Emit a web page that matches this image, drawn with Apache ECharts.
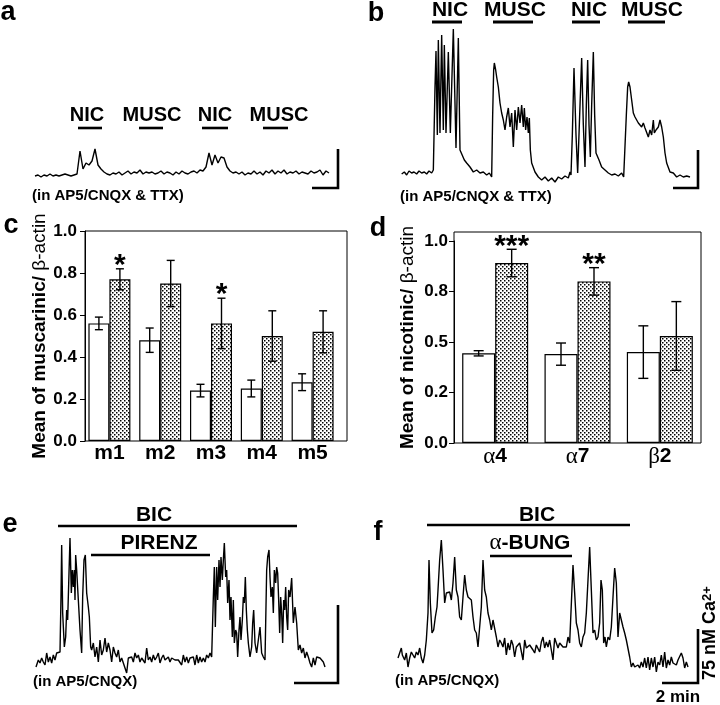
<!DOCTYPE html>
<html><head><meta charset="utf-8">
<script src="https://cdn.jsdelivr.net/npm/echarts@6/dist/echarts.min.js"></script>
<style>html,body{margin:0;padding:0;background:#fff}#chart{width:720px;height:705px}</style>
</head><body><div id="chart"></div>
<script>
// ---------- Panel c: muscarinic receptors ----------
const mCats = ['m1','m2','m3','m4','m5'];
const mControl = [0.56,0.48,0.24,0.25,0.28];
const mControlErr = [0.03,0.058,0.03,0.04,0.04];
const mTreated = [0.77,0.75,0.56,0.50,0.52];
const mTreatedErr = [0.05,0.11,0.12,0.12,0.10];
const mStars = ['*','','*','',''];
const cTickLabels = ['0.0','0.2','0.4','0.6','0.8','1.0'];

// ---------- Panel d: nicotinic receptors ----------
const nCats = ['α4','α7','β2'];
const nControl = [0.444,0.44,0.45];
const nControlErr = [0.013,0.055,0.13];
const nTreated = [0.891,0.80,0.53];
const nTreatedErr = [0.068,0.068,0.17];
const nStars = ['***','**',''];
const dTickLabels = ['0.0','0.2','0.5','0.8','1.0'];

// ---------- Calcium traces (time, rise above baseline) ----------
const traceAStart = 15, traceAStep = 9;
const traceAVals = [1,2,0,2,1,3,1,2,1,2,3,2,1,2,3,
 26,8,14,12,16,28,12,8,5,3,
 2,4,3,5,2,4,6,3,5,4,7,3,5,4,5,3,4,6,3,5,4,2,5,3,6,4,3,5,6,4,7,6,10,
 24,12,22,14,20,19,10,6,4,5,3,5,2,4,3,6,3,5,2,6,4,7,3,6,4,7,3,5,4,6,3,5,4,3,6,4,5,7,2,6,4];

const traceB = [[20,1],[28,3],[35,0],[42,4],[50,2],[57,3],[65,1],[72,4],[80,2],[88,3],[95,1],[102,4],[110,2],[115,5],[118,5],[120,88],[123,124],[127,40],[130,135],[135,42],[140,140],[145,45],[148,130],[153,42],[160,123],[166,42],[175,146],[183,27],[190,137],[195,25],[200,23],[208,15],[215,12],[225,8],[235,3],[245,5],[255,2],[265,3],[275,0],[283,2],[290,-2],[293,60],[296,105],[298,112],[302,105],[305,98],[310,88],[315,72],[320,62],[325,55],[330,45],[335,58],[340,67],[345,48],[350,62],[355,28],[360,65],[365,45],[370,68],[375,52],[380,70],[385,48],[388,67],[392,45],[396,58],[400,42],[403,57],[406,25],[410,12],[420,3],[430,-2],[440,-5],[450,-2],[460,-6],[470,-3],[480,-7],[490,-2],[500,-4],[510,-1],[520,-3],[525,3],[528,0],[532,40],[537,107],[543,40],[548,2],[554,60],[560,117],[565,50],[570,8],[574,70],[578,115],[582,50],[586,18],[590,70],[595,123],[599,60],[603,22],[612,15],[620,8],[630,5],[640,2],[650,0],[660,1],[670,-1],[680,2],[686,-2],[690,0],[694,60],[698,88],[701,93],[705,88],[710,75],[715,62],[720,58],[725,55],[730,52],[735,50],[740,48],[745,52],[750,47],[755,45],[760,38],[765,45],[770,40],[775,55],[778,42],[783,45],[790,48],[795,55],[800,48],[805,38],[810,22],[815,12],[825,3],[835,2],[845,-2],[855,0],[865,-2],[875,-1],[885,-2]];

const traceE = [[18,-4],[25,3],[30,0],[35,5],[40,1],[45,-2],[50,10],[55,1],[60,6],[65,0],[70,8],[75,3],[80,10],[85,8],[90,11],[93,66],[95,118],[98,50],[103,16],[107,26],[110,53],[113,43],[117,90],[120,125],[124,70],[127,93],[130,76],[133,93],[135,63],[137,108],[140,93],[145,63],[150,33],[155,10],[158,66],[162,103],[166,108],[170,70],[175,56],[178,46],[182,16],[185,13],[190,20],[195,6],[200,16],[205,1],[210,23],[215,8],[220,13],[225,25],[230,11],[235,20],[240,13],[245,1],[250,16],[255,10],[260,6],[265,13],[270,1],[275,5],[280,5],[285,-5],[290,-10],[295,5],[300,3],[305,6],[310,1],[315,10],[320,5],[325,8],[330,1],[335,5],[340,6],[345,0],[350,15],[355,3],[360,6],[365,1],[370,8],[375,3],[380,6],[385,10],[390,0],[395,5],[400,8],[405,3],[410,5],[415,6],[420,1],[425,5],[430,6],[435,3],[440,5],[445,3],[450,5],[455,-2],[460,8],[465,1],[470,6],[475,0],[480,5],[485,3],[490,6],[495,-2],[500,8],[505,0],[510,6],[515,1],[520,5],[525,1],[530,8],[535,5],[540,10],[545,6],[550,66],[553,96],[556,36],[560,96],[563,63],[567,103],[570,76],[573,106],[577,83],[580,103],[583,120],[587,86],[590,93],[593,60],[597,83],[600,43],[603,66],[607,26],[610,63],[613,20],[617,33],[620,30],[623,6],[627,33],[630,46],[633,23],[637,43],[640,66],[643,60],[646,86],[649,53],[652,33],[655,20],[660,6],[665,16],[668,40],[671,53],[675,20],[680,10],[685,23],[690,36],[695,10],[700,6],[705,3],[710,93],[713,106],[717,113],[720,86],[723,66],[727,76],[730,50],[733,93],[737,80],[740,96],[743,90],[746,63],[749,30],[752,66],[755,50],[758,20],[761,63],[764,53],[767,76],[770,46],[773,33],[776,73],[780,66],[785,85],[790,40],[795,56],[800,40],[805,13],[810,18],[815,10],[820,15],[825,5],[830,11],[835,6],[840,0],[845,-4],[850,5],[855,-2],[860,6],[865,6],[870,5],[875,6],[880,1],[885,-4]];

const traceF = [[15,7],[20,8],[25,17],[28,10],[32,8],[35,5],[40,12],[45,-2],[50,7],[55,13],[60,10],[65,7],[70,13],[75,10],[80,17],[85,7],[90,2],[95,10],[100,25],[105,52],[108,105],[112,62],[117,32],[122,35],[127,48],[132,58],[135,75],[140,105],[145,125],[150,95],[155,62],[160,72],[165,70],[170,73],[175,65],[180,82],[185,108],[190,75],[195,68],[200,48],[205,45],[210,68],[215,90],[220,75],[225,68],[230,68],[235,65],[240,48],[245,35],[250,32],[255,18],[260,18],[265,58],[270,105],[275,75],[280,68],[285,52],[290,45],[295,35],[300,45],[305,43],[310,28],[315,18],[320,25],[325,22],[330,18],[335,27],[340,10],[345,22],[350,15],[355,25],[360,20],[365,8],[370,18],[375,17],[380,22],[385,20],[390,5],[395,25],[400,17],[405,18],[410,20],[415,18],[420,15],[425,12],[430,20],[435,18],[440,13],[445,23],[450,28],[455,17],[460,23],[465,18],[470,25],[475,15],[480,5],[485,27],[490,25],[495,17],[500,22],[505,20],[510,18],[515,18],[520,18],[525,28],[530,22],[535,22],[540,100],[545,72],[550,42],[555,35],[560,22],[565,18],[570,28],[575,32],[580,52],[585,85],[590,118],[595,75],[600,32],[605,35],[610,25],[615,28],[620,42],[624,85],[628,75],[632,22],[636,28],[640,18],[645,28],[650,25],[655,38],[660,68],[665,97],[670,82],[675,28],[680,52],[685,52],[690,38],[695,32],[700,25],[705,25],[710,8],[715,-2],[720,2],[725,-2],[730,-3],[735,0],[740,-3],[745,3],[750,-2],[755,7],[760,-3],[765,8],[770,-5],[775,7],[780,-2],[785,8],[790,-7],[795,3],[800,0],[805,10],[810,-2],[815,13],[820,-3],[825,5],[830,0],[835,8],[840,2],[845,3],[850,0],[855,5],[860,5],[865,12],[870,7],[875,-3],[880,3],[885,-2]];

// ---------- annotation text ----------
const drugLabelsAB = ['NIC','MUSC','NIC','MUSC'];
const noteAB = '(in AP5/CNQX & TTX)';
const noteEF = '(in AP5/CNQX)';

// ---------- rendering ----------
const FONT = '"Liberation Sans", Arial, Helvetica, sans-serif';
const traceA = traceAVals.map((v, i) => [traceAStart + i * traceAStep, v]);

const pat = document.createElement('canvas');
pat.width = 4; pat.height = 4;
(function () {
  const g = pat.getContext('2d');
  g.fillStyle = '#fff'; g.fillRect(0, 0, 4, 4);
  g.fillStyle = '#000';
  g.fillRect(0, 0, 1.5, 1.5);
  g.fillRect(2, 2, 1.5, 1.5);
})();
const dotted = { image: pat, repeat: 'repeat' };

function errData(ctrl, ctrlErr, trt, trtErr) {
  const out = [];
  ctrl.forEach((v, i) => out.push([i, v, ctrlErr[i], 0]));
  trt.forEach((v, i) => out.push([i, v, trtErr[i], 1]));
  return out;
}
function errRender(barW, stars, capHalf) {
  return function (params, api) {
    const ci = api.value(0), v = api.value(1), e = api.value(2), side = api.value(3);
    const base = api.coord([ci, v]);
    const x = base[0] + (side ? barW / 2 : -barW / 2);
    const yT = api.coord([ci, v + e])[1];
    const yB = api.coord([ci, v - e])[1];
    const st = { stroke: '#000', lineWidth: 1.4 };
    const ch = [
      { type: 'line', shape: { x1: x, y1: yT, x2: x, y2: yB }, style: st },
      { type: 'line', shape: { x1: x - capHalf, y1: yT, x2: x + capHalf, y2: yT }, style: st },
      { type: 'line', shape: { x1: x - capHalf, y1: yB, x2: x + capHalf, y2: yB }, style: st }
    ];
    if (side && stars[ci]) {
      ch.push({ type: 'text', style: { text: stars[ci], x: x, y: yT - 3, align: 'center', verticalAlign: 'middle', font: 'bold 30px ' + FONT, fill: '#000' } });
    }
    return { type: 'group', children: ch };
  };
}

function traceSeries(idx, data) {
  return { type: 'line', xAxisIndex: idx, yAxisIndex: idx, data: data, showSymbol: false, symbol: 'none',
    clip: false, lineStyle: { color: '#000', width: 1.4 }, silent: true };
}
function hiddenX(grid, min, max) { return { gridIndex: grid, type: 'value', min: min, max: max, show: false }; }
function hiddenY(grid, min, max) { return { gridIndex: grid, type: 'value', min: min, max: max, show: false }; }

function txt(x, y, text, size, opts) {
  opts = opts || {};
  return { type: 'text', x: x, y: y, rotation: opts.rotation || 0, silent: true,
    style: Object.assign({ text: text, fill: '#000', font: (opts.weight || 'bold') + ' ' + size + 'px ' + FONT,
      align: opts.align || 'center', verticalAlign: 'middle' }, opts.style || {}) };
}
function bar(x1, x2, y, w) {
  return { type: 'line', silent: true, shape: { x1: x1, y1: y, x2: x2, y2: y }, style: { stroke: '#000', lineWidth: w || 2.6 } };
}
function scale(pts) {
  return { type: 'polyline', silent: true, shape: { points: pts }, style: { stroke: '#000', lineWidth: 2.6, fill: null } };
}

const nameRich = {
  b: { fontSize: 19, fontWeight: 'bold', fontFamily: FONT, color: '#000' },
  r: { fontSize: 19, fontWeight: 'normal', fontFamily: FONT, color: '#000' }
};

const gridBase = { outerBoundsMode: 'none', containLabel: false };
const option = {
  animation: false,
  backgroundColor: '#fff',
  grid: [
    Object.assign({ left: 30, top: 127, width: 315, height: 60 }, gridBase),            // 0 a
    Object.assign({ left: 395, top: 20, width: 310, height: 165 }, gridBase),           // 1 b
    Object.assign({ left: 85, top: 231, width: 262, height: 210, show: true, borderColor: '#000', borderWidth: 1, backgroundColor: 'rgba(0,0,0,0)' }, gridBase), // 2 c frame
    Object.assign({ left: 84, top: 231, width: 254, height: 210 }, gridBase),           // 3 c data
    Object.assign({ left: 454, top: 232, width: 247, height: 211, show: true, borderColor: '#000', borderWidth: 1, backgroundColor: 'rgba(0,0,0,0)' }, gridBase), // 4 d frame
    Object.assign({ left: 454, top: 241, width: 247, height: 202 }, gridBase),          // 5 d data
    Object.assign({ left: 30, top: 530, width: 315, height: 145 }, gridBase),           // 6 e
    Object.assign({ left: 393, top: 530, width: 305, height: 145 }, gridBase)           // 7 f
  ],
  xAxis: [
    hiddenX(0, 0, 945),
    hiddenX(1, 0, 930),
    hiddenX(2, 0, 1),
    { gridIndex: 3, type: 'category', data: mCats, axisLine: { show: false }, axisTick: { show: false },
      axisLabel: { fontSize: 21, fontWeight: 'bold', fontFamily: FONT, color: '#000', margin: 2 } },
    hiddenX(4, 0, 1),
    { gridIndex: 5, type: 'category', data: nCats, axisLine: { show: false }, axisTick: { show: false },
      axisLabel: { margin: 2, formatter: v => '{r|' + v.charAt(0) + '}{b|' + v.slice(1) + '}',
        rich: { r: { fontSize: 23, fontFamily: '"Liberation Serif", "DejaVu Serif", serif', color: '#000' },
                b: { fontSize: 21, fontWeight: 'bold', fontFamily: FONT, color: '#000' } } } },
    hiddenX(6, 0, 945),
    hiddenX(7, 0, 915)
  ],
  yAxis: [
    hiddenY(0, -10, 50),
    hiddenY(1, -10, 155),
    { gridIndex: 2, type: 'value', min: 0, max: 1, interval: 0.2, splitLine: { show: false },
      axisLine: { show: true, lineStyle: { color: '#000', width: 1 } },
      axisTick: { show: true, inside: false, length: 5, lineStyle: { color: '#000', width: 1 } },
      axisLabel: { margin: 8, fontSize: 17, fontWeight: 'bold', fontFamily: FONT, color: '#000',
        formatter: v => cTickLabels[Math.round(v / 0.2)] },
      name: '{b|Mean of muscarinic/ }{r|β-actin}', nameLocation: 'middle', nameGap: 35,
      nameTextStyle: { rich: nameRich } },
    hiddenY(3, 0, 1),
    { gridIndex: 4, type: 'value', min: 0, max: 1, axisLine: { show: false }, axisTick: { show: false },
      axisLabel: { show: false }, splitLine: { show: false },
      name: '{b|Mean of nicotinic/ }{r|β-actin}', nameLocation: 'middle', nameGap: 37,
      nameTextStyle: { rich: nameRich } },
    { gridIndex: 5, type: 'value', min: 0, max: 1, interval: 0.25, splitLine: { show: false },
      axisLine: { show: true, lineStyle: { color: '#000', width: 1 } },
      axisTick: { show: true, inside: false, length: 5, lineStyle: { color: '#000', width: 1 } },
      axisLabel: { margin: 6, fontSize: 17, fontWeight: 'bold', fontFamily: FONT, color: '#000',
        formatter: v => dTickLabels[Math.round(v / 0.25)] } },
    hiddenY(6, -12, 133),
    hiddenY(7, -10, 135)
  ],
  series: [
    traceSeries(0, traceA),
    traceSeries(1, traceB),
    traceSeries(6, traceE),
    traceSeries(7, traceF),
    { type: 'bar', xAxisIndex: 3, yAxisIndex: 3, data: mControl, barWidth: 21, barGap: '0%',
      itemStyle: { color: '#fff', borderColor: '#000', borderWidth: 1.2 } },
    { type: 'bar', xAxisIndex: 3, yAxisIndex: 3, data: mTreated, barWidth: 21, barGap: '0%',
      itemStyle: { color: dotted, borderColor: '#000', borderWidth: 1.2 } },
    { type: 'custom', xAxisIndex: 3, yAxisIndex: 3, z: 5, data: errData(mControl, mControlErr, mTreated, mTreatedErr),
      renderItem: errRender(21, mStars, 4), silent: true },
    { type: 'bar', xAxisIndex: 5, yAxisIndex: 5, data: nControl, barWidth: 33, barGap: '0%',
      itemStyle: { color: '#fff', borderColor: '#000', borderWidth: 1.2 } },
    { type: 'bar', xAxisIndex: 5, yAxisIndex: 5, data: nTreated, barWidth: 33, barGap: '0%',
      itemStyle: { color: dotted, borderColor: '#000', borderWidth: 1.2 } },
    { type: 'custom', xAxisIndex: 5, yAxisIndex: 5, z: 5, data: errData(nControl, nControlErr, nTreated, nTreatedErr),
      renderItem: errRender(33, nStars, 5), silent: true }
  ],
  graphic: { elements: [
    // panel letters
    txt(8, 13, 'a', 27), txt(376, 14, 'b', 27), txt(11, 226, 'c', 27),
    txt(378, 229, 'd', 27), txt(10, 525, 'e', 27), txt(378, 533, 'f', 27),
    // panel a labels
    txt(87, 115, drugLabelsAB[0], 20), txt(152, 115, drugLabelsAB[1], 20),
    txt(215, 115, drugLabelsAB[2], 20), txt(279, 115, drugLabelsAB[3], 20),
    bar(78, 102, 128), bar(139, 163, 128), bar(202, 228, 128), bar(263, 288, 128),
    txt(32, 196, noteAB, 15, { align: 'left' }),
    scale([[312, 188], [338, 188], [338, 149]]),
    // panel b labels
    txt(450, 10, drugLabelsAB[0], 21), txt(515, 10, drugLabelsAB[1], 21),
    txt(589, 10, drugLabelsAB[2], 21), txt(652, 10, drugLabelsAB[3], 21),
    bar(432, 462, 22, 3), bar(493, 533, 22, 3), bar(572, 600, 22, 3), bar(628, 665, 22, 3),
    txt(400, 197, noteAB, 15, { align: 'left' }),
    scale([[673, 188], [698, 188], [698, 150]]),
    // panel e
    txt(154, 515, 'BIC', 21), bar(58, 297, 526, 2.6),
    txt(159, 543, 'PIRENZ', 21), bar(91, 210, 555, 2.6),
    txt(33, 682, noteEF, 15, { align: 'left' }),
    scale([[294, 683], [338, 683], [338, 605]]),
    // panel f
    txt(537, 515, 'BIC', 21), bar(427, 630, 525, 2.6),
    { type: 'text', x: 530, y: 543, silent: true, style: { text: '{r|α}{b|-BUNG}', align: 'center', verticalAlign: 'middle',
      rich: { r: { fontSize: 23, fontFamily: '"Liberation Serif", "DejaVu Serif", serif', fill: '#000' },
              b: { fontSize: 21, fontWeight: 'bold', fontFamily: FONT, fill: '#000' } } } },
    bar(490, 572, 556, 2.6),
    txt(395, 681, noteEF, 15, { align: 'left' }),
    scale([[662, 683], [698, 683], [698, 629]]),
    txt(678, 697, '2 min', 17),
    { type: 'text', x: 710, y: 633, rotation: Math.PI / 2, silent: true,
      style: { text: '{n|75 nM Ca}{s|2+}', align: 'center', verticalAlign: 'middle',
        rich: { n: { fontSize: 18, fontWeight: 'bold', fontFamily: FONT, fill: '#000' },
                s: { fontSize: 13, fontWeight: 'bold', fontFamily: FONT, fill: '#000', verticalAlign: 'top' } } } }
  ] }
};

const chart = echarts.init(document.getElementById('chart'), null, { renderer: 'canvas' });
chart.setOption(option);
</script>
</body></html>
